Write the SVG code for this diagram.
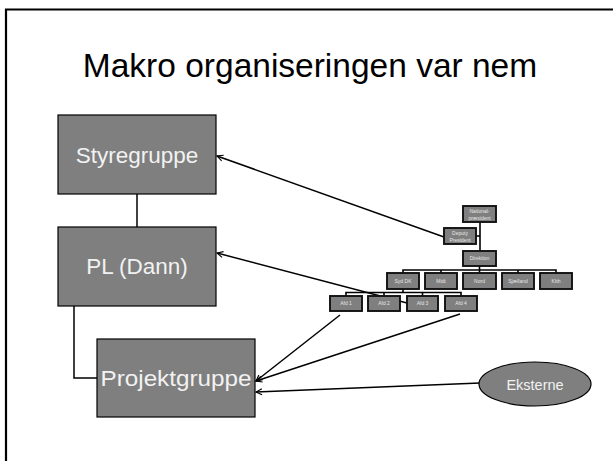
<svg xmlns="http://www.w3.org/2000/svg" width="613" height="461" viewBox="0 0 613 461">
<style>
.big{fill:#7f7f7f;stroke:#000;stroke-width:1.2}
.bt{font-family:"Liberation Sans",Arial,sans-serif;font-size:22.5px;fill:#f2f2f2;text-anchor:middle}
.sm{fill:#7f7f7f;stroke:#111;stroke-width:1.9}
.st{font-family:"Liberation Sans",Arial,sans-serif;font-size:5px;fill:#e6e6e6;text-anchor:middle}
.ln{fill:none;stroke:#000;stroke-width:1.5}
.tl{fill:none;stroke:#000;stroke-width:1.6}
</style>
<defs>
<marker id="ah" viewBox="0 0 10 10" refX="9" refY="5" markerWidth="5" markerHeight="5" orient="auto" markerUnits="strokeWidth">
<path d="M1,1 L9,5 L1,9" fill="none" stroke="#000" stroke-width="1.5"/>
</marker>
</defs>
<rect x="0" y="0" width="613" height="461" fill="#fff"/>
<path d="M6,461 V9.5 H613" fill="none" stroke="#000" stroke-width="2.2"/>
<text x="310" y="77" font-family="'Liberation Sans',Arial,sans-serif" font-size="33.5" fill="#000" text-anchor="middle">Makro organiseringen var nem</text>

<g id="connectors">
<line class="ln" x1="137" y1="194" x2="137" y2="227"/>
<polyline class="ln" points="74,306 74,378 97,378"/>
<line class="ln" x1="444" y1="237" x2="217" y2="156" marker-end="url(#ah)"/>
<line class="ln" x1="407" y1="303" x2="217" y2="253" marker-end="url(#ah)"/>
<line class="ln" x1="340" y1="315" x2="256" y2="381" marker-end="url(#ah)"/>
<line class="ln" x1="460" y1="314" x2="256" y2="381" marker-end="url(#ah)"/>
<line class="ln" x1="480" y1="383" x2="256" y2="392" marker-end="url(#ah)"/>
<line class="tl" x1="480" y1="222" x2="480" y2="251"/>
<line class="tl" x1="476" y1="236" x2="480" y2="236"/>
<polyline class="tl" points="403,273 403,270 556,270 556,273"/>
<line class="tl" x1="441" y1="270" x2="441" y2="273"/>
<line class="tl" x1="479.5" y1="266" x2="479.5" y2="273"/>
<line class="tl" x1="518" y1="270" x2="518" y2="273"/>
<line class="tl" x1="403" y1="289" x2="403" y2="292.5"/>
<polyline class="tl" points="346,296 346,292.5 461,292.5 461,296"/>
<line class="tl" x1="384" y1="292.5" x2="384" y2="296"/>
<line class="tl" x1="422.5" y1="292.5" x2="422.5" y2="296"/>
</g>

<g id="styregruppe"><rect class="big" x="58" y="115" width="158" height="79"/><text class="bt" x="137" y="163">Styregruppe</text></g>
<g id="pl"><rect class="big" x="58" y="227" width="158" height="79"/><text class="bt" x="137" y="274">PL (Dann)</text></g>
<g id="projektgruppe"><rect class="big" x="97" y="339" width="158" height="78"/><text class="bt" x="176" y="386" textLength="151" lengthAdjust="spacingAndGlyphs">Projektgruppe</text></g>
<g id="eksterne"><ellipse cx="535" cy="384" rx="56" ry="22" fill="#7f7f7f" stroke="#000" stroke-width="1.2"/><text x="535" y="389.5" font-family="'Liberation Sans',Arial,sans-serif" font-size="14.5" fill="#f2f2f2" text-anchor="middle">Eksterne</text></g>

<g id="nationalpraesident"><rect class="sm" x="463" y="206" width="33" height="16"/><text class="st" x="479.5" y="213">National-</text><text class="st" x="479.5" y="219.5">præsident</text></g>
<g id="deputy"><rect class="sm" x="444" y="228" width="32" height="16"/><text class="st" x="460" y="235">Deputy</text><text class="st" x="460" y="241.5">President</text></g>
<g id="direktion"><rect class="sm" x="463" y="251" width="33" height="15"/><text class="st" x="479.5" y="260.3">Direktion</text></g>
<g id="syddk"><rect class="sm" x="387" y="273" width="32" height="16"/><text class="st" x="403" y="282.7">Syd DK</text></g>
<g id="midt"><rect class="sm" x="425" y="273" width="32" height="16"/><text class="st" x="441" y="282.7">Midt</text></g>
<g id="nord"><rect class="sm" x="463" y="273" width="33" height="16"/><text class="st" x="479.5" y="282.7">Nord</text></g>
<g id="sjaelland"><rect class="sm" x="502" y="273" width="32" height="16"/><text class="st" x="518" y="282.7">Sjælland</text></g>
<g id="kbh"><rect class="sm" x="540" y="273" width="32" height="16"/><text class="st" x="556" y="282.7">Kbh</text></g>
<g id="afd1"><rect class="sm" x="330" y="296" width="32" height="15"/><text class="st" x="346" y="305.3">Afd 1</text></g>
<g id="afd2"><rect class="sm" x="368" y="296" width="32" height="15"/><text class="st" x="384" y="305.3">Afd 2</text></g>
<g id="afd3"><rect class="sm" x="407" y="296" width="31" height="15"/><text class="st" x="422.5" y="305.3">Afd 3</text></g>
<g id="afd4"><rect class="sm" x="445" y="296" width="32" height="15"/><text class="st" x="461" y="305.3">Afd 4</text></g>
</svg>
